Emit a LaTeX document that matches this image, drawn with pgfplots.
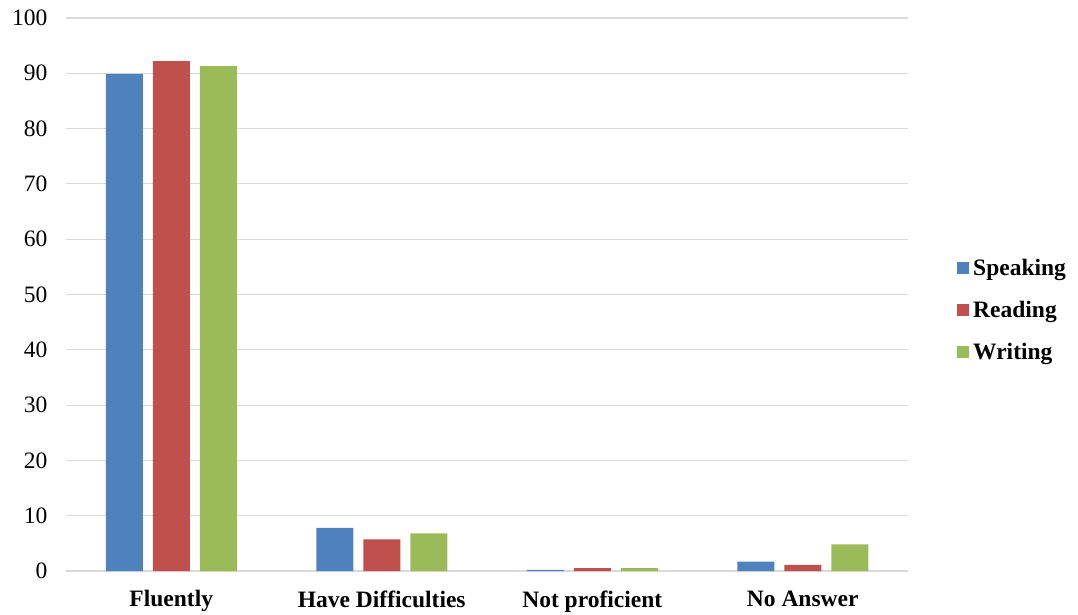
\documentclass[border=0pt]{standalone}
\usepackage{fontspec}
\setmainfont{Liberation Serif}
\usepackage{pgfplots}
\pgfplotsset{compat=1.18}
\definecolor{cSpk}{HTML}{4F81BD}
\definecolor{cRea}{HTML}{C0504D}
\definecolor{cWri}{HTML}{9BBB59}
\definecolor{cGrid}{HTML}{D9D9D9}
\begin{document}
\begin{tikzpicture}
\path[use as bounding box] (0,0) rectangle (1078pt,614pt);
\begin{axis}[
  at={(66pt,43pt)}, anchor=south west,
  scale only axis, width=842pt, height=553pt,
  ybar=10pt, bar width=37pt,
  xmin=-0.5, xmax=3.5, ymin=0, ymax=100,
  xtick=data,
  xticklabels={Fluently,Have Difficulties,Not proficient,No Answer},
  ytick={0,10,...,100},
  major tick length=0pt,
  axis line style={draw=none},
  axis x line*=bottom,
  ymajorgrids, grid style={cGrid, line width=1.2pt},
  /pgf/number format/assume math mode=true,
  yticklabel style={font=\fontsize{23.5}{28}\selectfont, xshift=-15pt},
  xticklabel style={font=\fontsize{23.5}{28}\selectfont\bfseries, yshift=-16pt},
  legend style={at={(1,0.472)}, anchor=west, xshift=46pt, draw=none, fill=none,
    font=\fontsize{23.5}{28}\selectfont\bfseries, row sep=20pt,
    nodes={inner xsep=4pt}},
  legend cell align=left,
  legend image code/.code={\fill[#1] (0pt,-6pt) rectangle (12pt,6pt);},
  every axis plot/.append style={draw=none},
]
\draw[cGrid, line width=1.2pt] (axis cs:-0.5,0) -- (axis cs:3.5,0);
\addplot[fill=cSpk] coordinates {(0,89.9) (1,7.8) (2,0.2) (3,1.7)};
\addplot[fill=cRea] coordinates {(0,92.2) (1,5.7) (2,0.5) (3,1.1)};
\addplot[fill=cWri] coordinates {(0,91.3) (1,6.8) (2,0.5) (3,4.8)};
\legend{Speaking,Reading,Writing}
\end{axis}
\end{tikzpicture}
\end{document}
